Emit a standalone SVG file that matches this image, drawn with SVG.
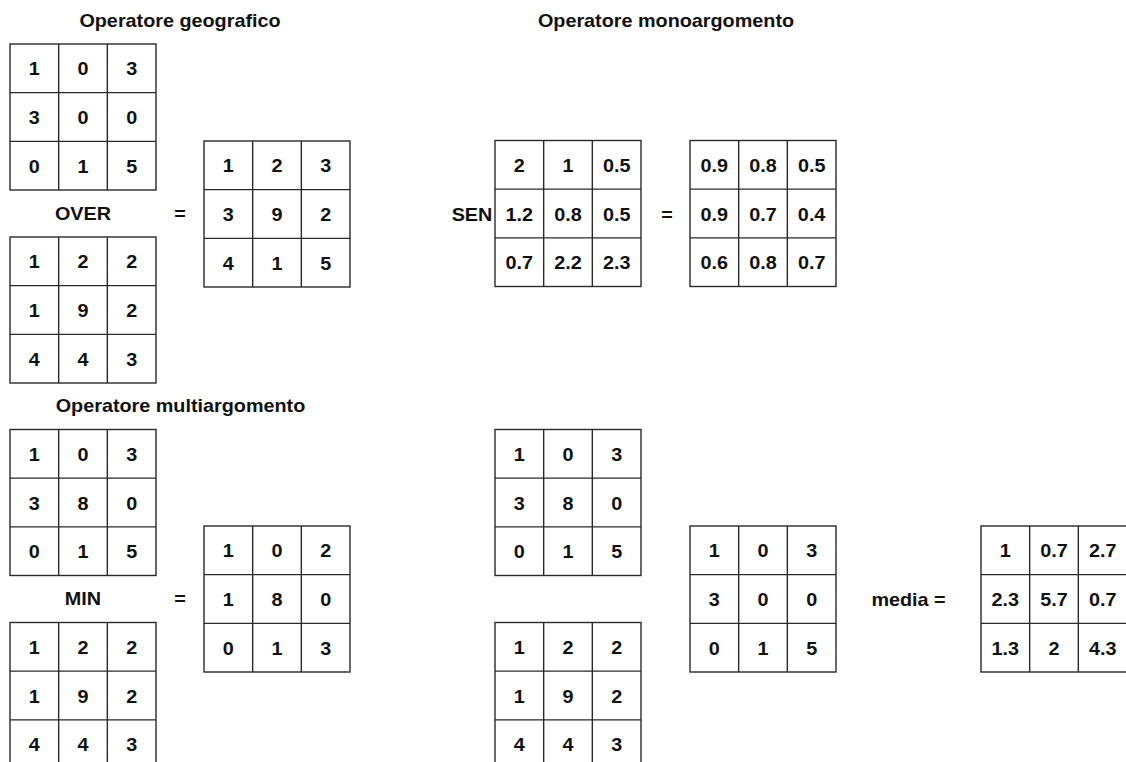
<svg xmlns="http://www.w3.org/2000/svg" width="1126" height="762" viewBox="0 0 1126 762">
<style>
text{font-family:"Liberation Sans",Arial,sans-serif;font-weight:bold;fill:#111;text-anchor:middle;transform-box:fill-box;transform-origin:center;transform:scaleX(1.1)}
.n{font-size:18px}
.h{font-size:18px}
.g{fill:#fff;stroke:#2a2a2a;stroke-width:1.4}
.l{fill:none;stroke:#2a2a2a;stroke-width:1.4}
</style>
<rect width="1126" height="762" fill="#fff"/>
<g id="titles">
<text class="h" x="180" y="27">Operatore geografico</text>
<text class="h" x="666" y="27">Operatore monoargomento</text>
<text class="h" x="180.5" y="412">Operatore multiargomento</text>
</g>
<g id="labels">
<text class="h" x="83" y="220">OVER</text>
<text class="h" x="180" y="220">=</text>
<text class="h" x="472" y="221">SEN</text>
<text class="h" x="667" y="221">=</text>
<text class="h" x="83" y="605">MIN</text>
<text class="h" x="180" y="605">=</text>
<text class="h" x="908.5" y="606">media =</text>
</g>
<g id="g1" transform="translate(10,44)">
<rect class="g" width="146" height="146"/><path class="l" d="M48.67 0V146M97.33 0V146M0 48.67H146M0 97.33H146"/>
<text class="n" x="24.33" y="31.5">1</text><text class="n" x="73" y="31.5">0</text><text class="n" x="121.67" y="31.5">3</text>
<text class="n" x="24.33" y="80.2">3</text><text class="n" x="73" y="80.2">0</text><text class="n" x="121.67" y="80.2">0</text>
<text class="n" x="24.33" y="128.8">0</text><text class="n" x="73" y="128.8">1</text><text class="n" x="121.67" y="128.8">5</text>
</g>
<g id="g2" transform="translate(10,237)">
<rect class="g" width="146" height="146"/><path class="l" d="M48.67 0V146M97.33 0V146M0 48.67H146M0 97.33H146"/>
<text class="n" x="24.33" y="31.5">1</text><text class="n" x="73" y="31.5">2</text><text class="n" x="121.67" y="31.5">2</text>
<text class="n" x="24.33" y="80.2">1</text><text class="n" x="73" y="80.2">9</text><text class="n" x="121.67" y="80.2">2</text>
<text class="n" x="24.33" y="128.8">4</text><text class="n" x="73" y="128.8">4</text><text class="n" x="121.67" y="128.8">3</text>
</g>
<g id="g3" transform="translate(204,141)">
<rect class="g" width="146" height="146"/><path class="l" d="M48.67 0V146M97.33 0V146M0 48.67H146M0 97.33H146"/>
<text class="n" x="24.33" y="31.5">1</text><text class="n" x="73" y="31.5">2</text><text class="n" x="121.67" y="31.5">3</text>
<text class="n" x="24.33" y="80.2">3</text><text class="n" x="73" y="80.2">9</text><text class="n" x="121.67" y="80.2">2</text>
<text class="n" x="24.33" y="128.8">4</text><text class="n" x="73" y="128.8">1</text><text class="n" x="121.67" y="128.8">5</text>
</g>
<g id="g4" transform="translate(495,140.5)">
<rect class="g" width="146" height="146"/><path class="l" d="M48.67 0V146M97.33 0V146M0 48.67H146M0 97.33H146"/>
<text class="n" x="24.33" y="31.5">2</text><text class="n" x="73" y="31.5">1</text><text class="n" x="121.67" y="31.5">0.5</text>
<text class="n" x="24.33" y="80.2">1.2</text><text class="n" x="73" y="80.2">0.8</text><text class="n" x="121.67" y="80.2">0.5</text>
<text class="n" x="24.33" y="128.8">0.7</text><text class="n" x="73" y="128.8">2.2</text><text class="n" x="121.67" y="128.8">2.3</text>
</g>
<g id="g5" transform="translate(690,140.5)">
<rect class="g" width="146" height="146"/><path class="l" d="M48.67 0V146M97.33 0V146M0 48.67H146M0 97.33H146"/>
<text class="n" x="24.33" y="31.5">0.9</text><text class="n" x="73" y="31.5">0.8</text><text class="n" x="121.67" y="31.5">0.5</text>
<text class="n" x="24.33" y="80.2">0.9</text><text class="n" x="73" y="80.2">0.7</text><text class="n" x="121.67" y="80.2">0.4</text>
<text class="n" x="24.33" y="128.8">0.6</text><text class="n" x="73" y="128.8">0.8</text><text class="n" x="121.67" y="128.8">0.7</text>
</g>
<g id="g6" transform="translate(10,429.5)">
<rect class="g" width="146" height="146"/><path class="l" d="M48.67 0V146M97.33 0V146M0 48.67H146M0 97.33H146"/>
<text class="n" x="24.33" y="31.5">1</text><text class="n" x="73" y="31.5">0</text><text class="n" x="121.67" y="31.5">3</text>
<text class="n" x="24.33" y="80.2">3</text><text class="n" x="73" y="80.2">8</text><text class="n" x="121.67" y="80.2">0</text>
<text class="n" x="24.33" y="128.8">0</text><text class="n" x="73" y="128.8">1</text><text class="n" x="121.67" y="128.8">5</text>
</g>
<g id="g7" transform="translate(10,622.5)">
<rect class="g" width="146" height="146"/><path class="l" d="M48.67 0V146M97.33 0V146M0 48.67H146M0 97.33H146"/>
<text class="n" x="24.33" y="31.5">1</text><text class="n" x="73" y="31.5">2</text><text class="n" x="121.67" y="31.5">2</text>
<text class="n" x="24.33" y="80.2">1</text><text class="n" x="73" y="80.2">9</text><text class="n" x="121.67" y="80.2">2</text>
<text class="n" x="24.33" y="128.8">4</text><text class="n" x="73" y="128.8">4</text><text class="n" x="121.67" y="128.8">3</text>
</g>
<g id="g8" transform="translate(204,526)">
<rect class="g" width="146" height="146"/><path class="l" d="M48.67 0V146M97.33 0V146M0 48.67H146M0 97.33H146"/>
<text class="n" x="24.33" y="31.5">1</text><text class="n" x="73" y="31.5">0</text><text class="n" x="121.67" y="31.5">2</text>
<text class="n" x="24.33" y="80.2">1</text><text class="n" x="73" y="80.2">8</text><text class="n" x="121.67" y="80.2">0</text>
<text class="n" x="24.33" y="128.8">0</text><text class="n" x="73" y="128.8">1</text><text class="n" x="121.67" y="128.8">3</text>
</g>
<g id="g9" transform="translate(495,429.5)">
<rect class="g" width="146" height="146"/><path class="l" d="M48.67 0V146M97.33 0V146M0 48.67H146M0 97.33H146"/>
<text class="n" x="24.33" y="31.5">1</text><text class="n" x="73" y="31.5">0</text><text class="n" x="121.67" y="31.5">3</text>
<text class="n" x="24.33" y="80.2">3</text><text class="n" x="73" y="80.2">8</text><text class="n" x="121.67" y="80.2">0</text>
<text class="n" x="24.33" y="128.8">0</text><text class="n" x="73" y="128.8">1</text><text class="n" x="121.67" y="128.8">5</text>
</g>
<g id="g10" transform="translate(495,622.5)">
<rect class="g" width="146" height="146"/><path class="l" d="M48.67 0V146M97.33 0V146M0 48.67H146M0 97.33H146"/>
<text class="n" x="24.33" y="31.5">1</text><text class="n" x="73" y="31.5">2</text><text class="n" x="121.67" y="31.5">2</text>
<text class="n" x="24.33" y="80.2">1</text><text class="n" x="73" y="80.2">9</text><text class="n" x="121.67" y="80.2">2</text>
<text class="n" x="24.33" y="128.8">4</text><text class="n" x="73" y="128.8">4</text><text class="n" x="121.67" y="128.8">3</text>
</g>
<g id="g11" transform="translate(690,526)">
<rect class="g" width="146" height="146"/><path class="l" d="M48.67 0V146M97.33 0V146M0 48.67H146M0 97.33H146"/>
<text class="n" x="24.33" y="31.5">1</text><text class="n" x="73" y="31.5">0</text><text class="n" x="121.67" y="31.5">3</text>
<text class="n" x="24.33" y="80.2">3</text><text class="n" x="73" y="80.2">0</text><text class="n" x="121.67" y="80.2">0</text>
<text class="n" x="24.33" y="128.8">0</text><text class="n" x="73" y="128.8">1</text><text class="n" x="121.67" y="128.8">5</text>
</g>
<g id="g12" transform="translate(981,526)">
<rect class="g" width="146" height="146"/><path class="l" d="M48.67 0V146M97.33 0V146M0 48.67H146M0 97.33H146"/>
<text class="n" x="24.33" y="31.5">1</text><text class="n" x="73" y="31.5">0.7</text><text class="n" x="121.67" y="31.5">2.7</text>
<text class="n" x="24.33" y="80.2">2.3</text><text class="n" x="73" y="80.2">5.7</text><text class="n" x="121.67" y="80.2">0.7</text>
<text class="n" x="24.33" y="128.8">1.3</text><text class="n" x="73" y="128.8">2</text><text class="n" x="121.67" y="128.8">4.3</text>
</g>
<g id="connectors"/>
</svg>
